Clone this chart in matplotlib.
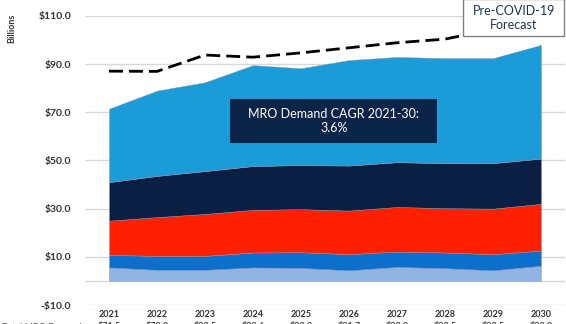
import matplotlib
matplotlib.use("Agg")
import matplotlib.pyplot as plt
from matplotlib.patches import Rectangle

plt.rcParams['font.family'] = ['Lato', 'DejaVu Sans']

years = ['2021', '2022', '2023', '2024', '2025', '2026', '2027', '2028', '2029', '2030']

# stacked segments, bottom to top ($ billions)
seg_base = [5.6, 4.6, 4.6, 5.6, 5.4, 4.4, 5.8, 5.3, 4.4, 6.3]
seg_second = [5.2, 5.8, 5.8, 6.2, 6.5, 6.7, 6.4, 6.5, 6.7, 6.3]
seg_third = [14.2, 16.1, 17.4, 17.7, 17.9, 18.1, 18.5, 18.4, 18.9, 19.4]
seg_fourth = [16.0, 17.1, 17.8, 18.2, 18.3, 18.7, 18.6, 18.7, 18.9, 18.8]
seg_top = [30.5, 35.4, 36.9, 41.9, 40.2, 43.8, 43.7, 43.6, 43.6, 47.2]

pre_covid = [87.1, 87.0, 93.8, 92.9, 94.7, 96.8, 98.9, 100.4, 104.5, 107.0]

y_ticks = [-10, 10, 30, 50, 70, 90, 110]
cagr_text = "MRO Demand CAGR 2021-30:\n3.6%"

colors = ['#8fb4e3', '#0c6fcc', '#ff2000', '#0b1f45', '#1b9bd7']

W, H = 566, 324
fig = plt.figure(figsize=(W / 100, H / 100), dpi=100)
ax = fig.add_axes([85 / W, 1 - 305 / H, 480 / W, 289 / H])

x = list(range(len(years)))
ax.stackplot(x, seg_base, seg_second, seg_third, seg_fourth, seg_top,
             colors=colors, edgecolor='#9a8f98', linewidth=0.3, zorder=2)
ax.plot(x, pre_covid, color='black', lw=2.0, dashes=(5, 2.2), zorder=3)

ax.set_xlim(-0.5, 9.5)
ax.set_ylim(-10, 110)
ax.set_yticks(y_ticks)
ax.set_yticklabels(['-$%.1f' % -v if v < 0 else '$%.1f' % v for v in y_ticks],
                   fontsize=7.5, fontweight='bold', color='#333333')
for v in y_ticks + [0]:
    ax.axhline(v, color='#d9d9d9', lw=1.0, zorder=1)
ax.set_xticks(x)
ax.set_xticklabels(years, fontsize=6.5, fontweight='bold', color='#333333')
ax.tick_params(length=0, pad=10)
ax.tick_params(axis='x', pad=3.5)
for s in ax.spines.values():
    s.set_visible(False)

fig.text(12 / W, 1 - 28 / H, 'Billions', rotation=90, ha='center', va='center',
         fontsize=6.5, fontweight='bold', color='#333333')

# CAGR call-out
fig.patches.append(Rectangle((230 / W, 1 - 143 / H), 207 / W, 44 / H,
                             transform=fig.transFigure, facecolor='#0b2447',
                             edgecolor='none', zorder=5))
fig.text(334 / W, 1 - 121 / H, cagr_text, ha='center', va='center',
         fontsize=9, color='white', linespacing=1.1, zorder=6)

# pre-covid forecast label
fig.patches.append(Rectangle((463 / W, 1 - 36 / H), 101 / W, 37 / H,
                             transform=fig.transFigure, facecolor='white',
                             edgecolor='#808080', lw=1.0, zorder=5))
fig.text(514 / W, 1 - 18 / H, 'Pre-COVID-19\nForecast', ha='center', va='center',
         fontsize=9, color='#1f3350', linespacing=1.15, zorder=6)

# totals row along the bottom edge
totals = [a + b + c + d + e for a, b, c, d, e in
          zip(seg_base, seg_second, seg_third, seg_fourth, seg_top)]
for i, t in enumerate(totals):
    fig.text((109 + 48 * i) / W, 1 - 322.5 / H, '$%.1f' % t, ha='center', va='top',
             fontsize=6.5, fontweight='bold', color='#444444')
fig.text(2 / W, 1 - 322.5 / H, 'Total MRO Demand', ha='left', va='top',
         fontsize=6.5, color='#555555')

fig.savefig('out.png', dpi=100)
